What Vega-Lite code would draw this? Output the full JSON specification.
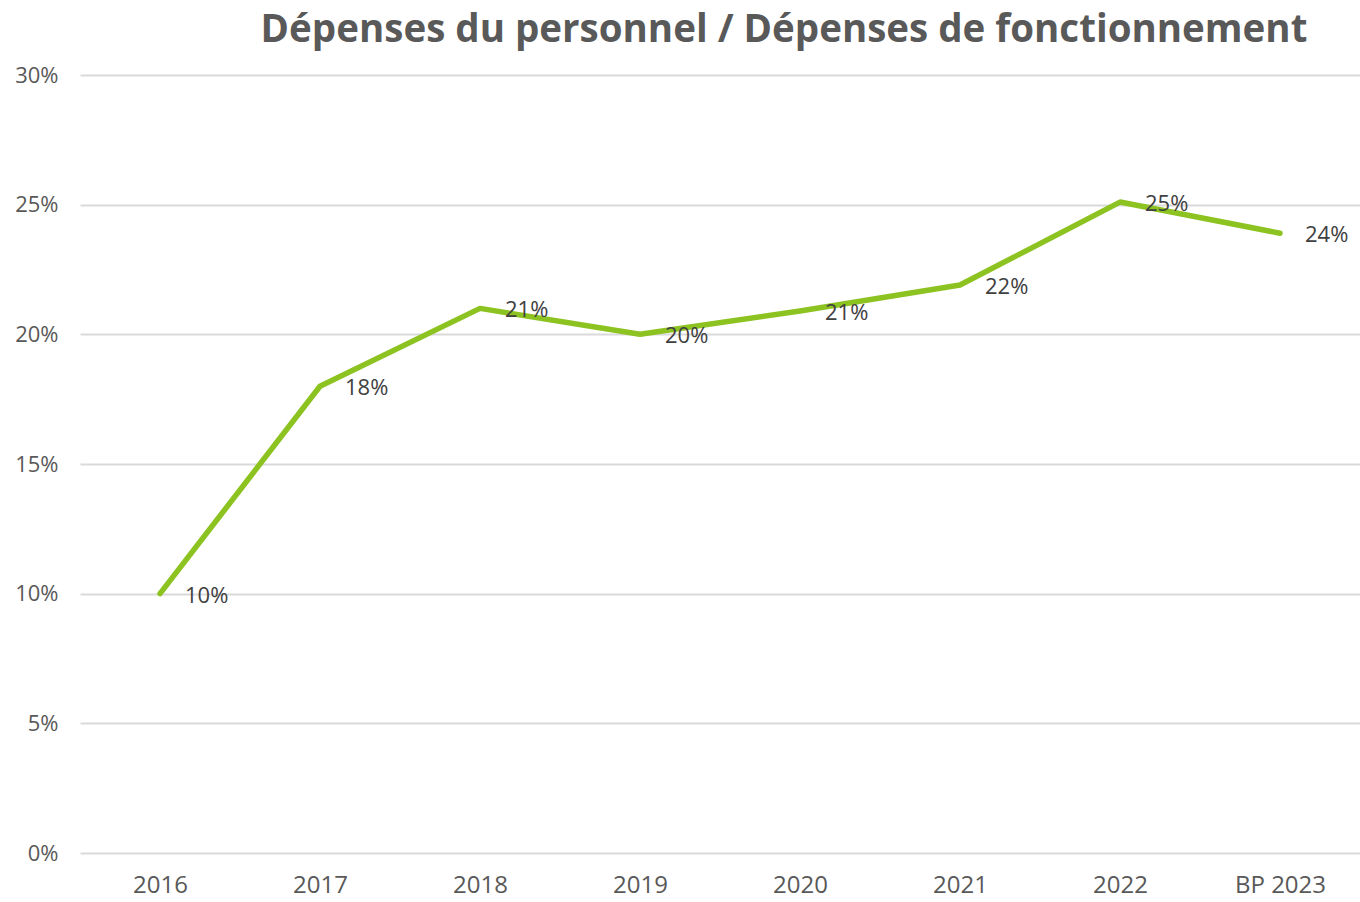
{
  "$schema": "https://vega.github.io/schema/vega-lite/v6.json",
  "width": 1280,
  "height": 778,
  "autosize": {"type": "none"},
  "padding": {"left": 80, "top": 75, "right": 0, "bottom": 49},
  "background": "white",
  "config": {"view": {"stroke": null}, "font": "Open Sans"},
  "title": {
    "text": "Dépenses du personnel / Dépenses de fonctionnement",
    "font": "Open Sans",
    "fontSize": 38.5,
    "fontWeight": "bold",
    "color": "#595959",
    "anchor": "middle",
    "dx": 64,
    "offset": 14
  },
  "data": {
    "values": [
      {"annee": "2016", "ratio": 0.100},
      {"annee": "2017", "ratio": 0.180},
      {"annee": "2018", "ratio": 0.210},
      {"annee": "2019", "ratio": 0.200},
      {"annee": "2020", "ratio": 0.209},
      {"annee": "2021", "ratio": 0.219},
      {"annee": "2022", "ratio": 0.251},
      {"annee": "BP 2023", "ratio": 0.239}
    ]
  },
  "encoding": {
    "x": {
      "field": "annee",
      "type": "nominal",
      "sort": null,
      "scale": {"type": "point", "padding": 0.5},
      "axis": {
        "title": null,
        "labelAngle": 0,
        "labelFontSize": 24,
        "labelColor": "#595959",
        "labelPadding": 20,
        "ticks": false,
        "domain": false,
        "grid": false
      }
    },
    "y": {
      "field": "ratio",
      "type": "quantitative",
      "scale": {"domain": [0, 0.3], "nice": false},
      "axis": {
        "title": null,
        "format": ".0%",
        "values": [0, 0.05, 0.1, 0.15, 0.2, 0.25, 0.3],
        "labelFontSize": 22,
        "labelColor": "#595959",
        "labelPadding": 22,
        "ticks": false,
        "domain": false,
        "grid": true,
        "gridColor": "#d9d9d9",
        "gridWidth": 2
      }
    }
  },
  "layer": [
    {
      "mark": {"type": "line", "color": "#8cc321", "strokeWidth": 5.5, "strokeCap": "round", "strokeJoin": "round"}
    },
    {
      "mark": {"type": "text", "align": "left", "baseline": "middle", "dx": 25, "dy": 2, "fontSize": 22, "color": "#404040"},
      "encoding": {"text": {"field": "ratio", "type": "quantitative", "format": ".0%"}}
    }
  ]
}
